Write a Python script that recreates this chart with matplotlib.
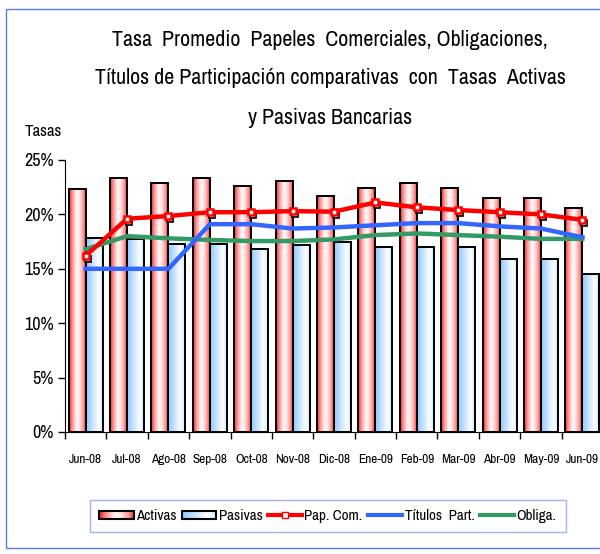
import numpy as np
import matplotlib.pyplot as plt
import matplotlib.transforms as mtransforms
from matplotlib.patches import Rectangle
from matplotlib.lines import Line2D
from matplotlib.legend_handler import HandlerBase

plt.rcParams['font.family'] = ['Archivo Narrow', 'Liberation Sans', 'DejaVu Sans']

# data (%)
meses = ['Jun-08', 'Jul-08', 'Ago-08', 'Sep-08', 'Oct-08', 'Nov-08', 'Dic-08',
         'Ene-09', 'Feb-09', 'Mar-09', 'Abr-09', 'May-09', 'Jun-09']
activas = [22.3, 23.3, 22.9, 23.3, 22.6, 23.1, 21.7, 22.4, 22.9, 22.4, 21.5, 21.5, 20.6]
pasivas = [17.8, 17.7, 17.3, 17.3, 16.8, 17.2, 17.5, 17.0, 17.0, 17.0, 15.9, 15.9, 14.5]
pap_com = [16.2, 19.6, 19.85, 20.2, 20.2, 20.3, 20.25, 21.1, 20.65, 20.4, 20.2, 20.0, 19.5]
titulos = [15.0, 15.0, 15.0, 19.1, 19.1, 18.7, 18.8, 19.0, 19.2, 19.2, 18.9, 18.7, 17.9]
obliga = [16.8, 18.0, 17.8, 17.65, 17.55, 17.55, 17.7, 18.1, 18.25, 18.1, 17.95, 17.75, 17.75]

# gradient colour stops (position, rgb)
red_stops = [(0.0, (0.92, 0.15, 0.15)), (0.18, (1.0, 0.55, 0.55)), (0.45, (1.0, 0.97, 0.97)),
             (0.6, (1.0, 0.93, 0.93)), (0.85, (1.0, 0.6, 0.6)), (1.0, (0.95, 0.2, 0.2))]
blue_stops = [(0.0, (0.55, 0.78, 1.0)), (0.35, (0.76, 0.88, 1.0)), (0.75, (1.0, 1.0, 1.0)),
              (1.0, (0.82, 0.91, 1.0))]


def gradient(stops, n=64):
    pos = np.array([s[0] for s in stops])
    cols = np.array([s[1] for s in stops])
    t = np.linspace(0, 1, n)
    return np.stack([np.interp(t, pos, cols[:, k]) for k in range(3)], axis=1)


red_grad = gradient(red_stops)
blue_grad = gradient(blue_stops)


class GradHandler(HandlerBase):
    def __init__(self, grad):
        super().__init__()
        self.grad = grad

    def create_artists(self, legend, orig_handle, xdescent, ydescent, width, height, fontsize, trans):
        arts = []
        n = len(self.grad)
        w = width / n
        y0 = -ydescent + height * 0.1
        h = height * 0.75
        for i, c in enumerate(self.grad):
            r = Rectangle((-xdescent + i * w, y0), w * 1.05, h, facecolor=c, edgecolor='none', transform=trans)
            arts.append(r)
        arts.append(Rectangle((-xdescent, y0), width, h, facecolor='none', edgecolor='black', lw=1.5, transform=trans))
        return arts


fig = plt.figure(figsize=(6.0, 5.54), dpi=100)

# outer frame of the chart area
fig.add_artist(Rectangle((6 / 600, 1 - 548 / 554), 610 / 600, 539 / 554, transform=fig.transFigure,
                         facecolor='none', edgecolor='#5b7bf0', lw=1.0))

ax = fig.add_axes([65 / 600, 1 - 432 / 554, 538 / 600, 272 / 554])
x = np.arange(len(meses))
bw = 0.41

for i in x:
    ax.imshow(red_grad[np.newaxis, :, :], extent=[i - bw, i, 0, activas[i]], aspect='auto',
              interpolation='bilinear', zorder=2)
    ax.imshow(blue_grad[np.newaxis, :, :], extent=[i, i + bw, 0, pasivas[i]], aspect='auto',
              interpolation='bilinear', zorder=2)
ax.bar(x - bw / 2, activas, width=bw, fill=False, edgecolor='black', lw=1.4, zorder=3)
ax.bar(x + bw / 2, pasivas, width=bw, fill=False, edgecolor='black', lw=1.4, zorder=3)

ax.plot(x, obliga, color='#339966', lw=3.2, zorder=4)
ax.plot(x, titulos, color='#3366ff', lw=3.2, zorder=5)
ax.plot(x, pap_com, color='#ff0000', lw=3.2, zorder=6)
shadow = ax.transData + mtransforms.ScaledTranslation(2 / 100, -3 / 100, fig.dpi_scale_trans)
ax.plot(x, pap_com, ls='none', marker='s', ms=5, mfc='white', mec='black', mew=1.2,
        transform=shadow, zorder=5.5)
ax.plot(x, pap_com, ls='none', marker='s', ms=5, mfc='white', mec='#ff0000', mew=1.8, zorder=7)

ax.set_xlim(-0.5, 12.5)
ax.set_ylim(0, 25)
ax.set_yticks(np.arange(0, 26, 5))
ax.set_yticklabels([f'{v}%' for v in range(0, 26, 5)], fontsize=13)
ax.set_xticks(x)
ax.set_xticklabels(meses, fontsize=9.6)
ax.set_xticks(np.arange(-0.5, 13, 1), minor=True)
ax.tick_params(axis='x', which='major', length=0, pad=16)
ax.tick_params(axis='x', which='minor', length=5, width=1, direction='out')
ax.tick_params(axis='y', length=5, width=1, direction='out', pad=3)
for s in ['top', 'right']:
    ax.spines[s].set_visible(False)

fig.text(330 / 600, 1 - 40 / 554, 'Tasa  Promedio  Papeles  Comerciales, Obligaciones,',
         ha='center', va='center', fontsize=15.8)
fig.text(330 / 600, 1 - 78 / 554, 'Títulos de Participación comparativas  con  Tasas  Activas',
         ha='center', va='center', fontsize=15.8)
fig.text(330 / 600, 1 - 118 / 554, 'y Pasivas Bancarias', ha='center', va='center', fontsize=15.8)
fig.text(25 / 600, 1 - 131 / 554, 'Tasas', ha='left', va='center', fontsize=12)

handles = [Rectangle((0, 0), 1, 1), Rectangle((0, 0), 1, 1),
           Line2D([], [], color='#ff0000', lw=3, marker='s', ms=5, mfc='white', mec='#ff0000'),
           Line2D([], [], color='#3366ff', lw=3),
           Line2D([], [], color='#339966', lw=3)]
labels = ['Activas', 'Pasivas', 'Pap. Com.', 'Títulos  Part.', 'Obliga.']
leg = fig.legend(handles, labels, loc='center', bbox_to_anchor=(328 / 600, 1 - 516 / 554), ncol=5,
                 fontsize=10.8, frameon=True, fancybox=False, handlelength=2.3, handletextpad=0.15,
                 columnspacing=0.35, borderpad=0.6,
                 handler_map={handles[0]: GradHandler(red_grad), handles[1]: GradHandler(blue_grad)})
leg.get_frame().set_edgecolor('#8ea2f0')
leg.get_frame().set_linewidth(1.0)

fig.savefig('out.png', dpi=100)
